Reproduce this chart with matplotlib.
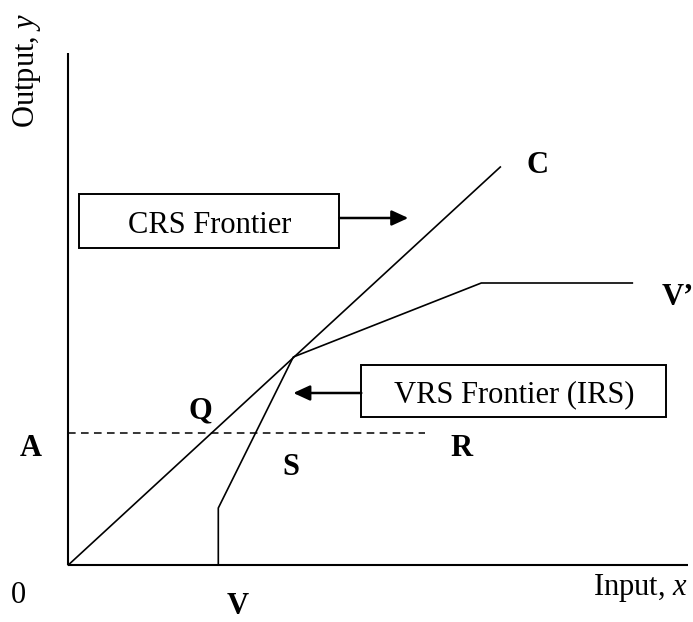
import matplotlib
matplotlib.use('Agg')
import matplotlib.pyplot as plt
from matplotlib.patches import Rectangle

plt.rcParams['font.family'] = ['Liberation Serif', 'DejaVu Serif']
plt.rcParams['mathtext.fontset'] = 'custom'
plt.rcParams['mathtext.rm'] = 'Liberation Serif'
plt.rcParams['mathtext.it'] = 'Liberation Serif:italic'

# frontier geometry (input x, output y), origin at 0
crs_x = [0, 432]
crs_y = [0, 398]
vrs_x = [150, 150, 225, 413, 564]
vrs_y = [0, 57, 208, 282, 282]
level_A = 132
level_x_end = 357
yaxis_top = 512
xaxis_end = 620

# text boxes: (left, bottom, width, height), label, arrow from -> to
box_crs = (11, 317, 260, 54)
box_vrs = (293, 148, 305, 52)
crs_label = 'CRS Frontier'
vrs_label = 'VRS Frontier (IRS)'
arrow_crs = ((271, 347), (340, 347))
arrow_vrs = ((293, 172), (225, 172))

# point letters: (x, baseline y, text, ha)
point_labels = [
    (469, 392, 'C', 'center'),
    (593, 260, 'V\u2019', 'left'),
    (132, 147, 'Q', 'center'),
    (-38, 109, 'A', 'center'),
    (223, 90, 'S', 'center'),
    (393, 109, 'R', 'center'),
    (169, -49, 'V', 'center'),
]

fig = plt.figure(figsize=(6.93, 6.22), dpi=100)
ax = fig.add_axes([0, 0, 1, 1])
ax.set_xlim(-68.3, 624.7)
ax.set_ylim(-57, 565)
ax.axis('off')

fs = 22

# axes
ax.plot([0, 0], [0, yaxis_top], color='black', lw=1.5, solid_capstyle='butt')
ax.plot([0, xaxis_end], [0, 0], color='black', lw=1.5, solid_capstyle='butt')

# frontiers
ax.plot(crs_x, crs_y, color='black', lw=1.2)
ax.plot(vrs_x, vrs_y, color='black', lw=1.2)
ax.plot([0, level_x_end], [level_A, level_A], color='black', lw=1.1, linestyle=(0, (5, 3.5)))

# boxes with labels and arrows
for (l, b, w, h), lab in [(box_crs, crs_label), (box_vrs, vrs_label)]:
    ax.add_patch(Rectangle((l, b), w, h, fill=False, ec='black', lw=1.4))
    ax.text(l + w / 2, b + 15, lab, ha='center', va='baseline', fontsize=fs)

for start, end in [arrow_crs, arrow_vrs]:
    ax.annotate('', xy=end, xytext=start,
                arrowprops=dict(arrowstyle='-|>,head_length=0.5,head_width=0.23',
                                mutation_scale=20, color='black', lw=1.8,
                                shrinkA=0, shrinkB=0))

for x, y, t, ha in point_labels:
    ax.text(x, y, t, ha=ha, va='baseline', fontsize=fs, fontweight='bold')

ax.text(-50, -38, '0', ha='center', va='baseline', fontsize=fs)
ax.text(620, -30, 'Input, $x$', ha='right', va='baseline', fontsize=fs)
ax.text(-34.3, 494.5, 'Output, $y$', ha='center', va='baseline', fontsize=fs,
        rotation=90, rotation_mode='anchor')

fig.savefig('out.png', dpi=100)
